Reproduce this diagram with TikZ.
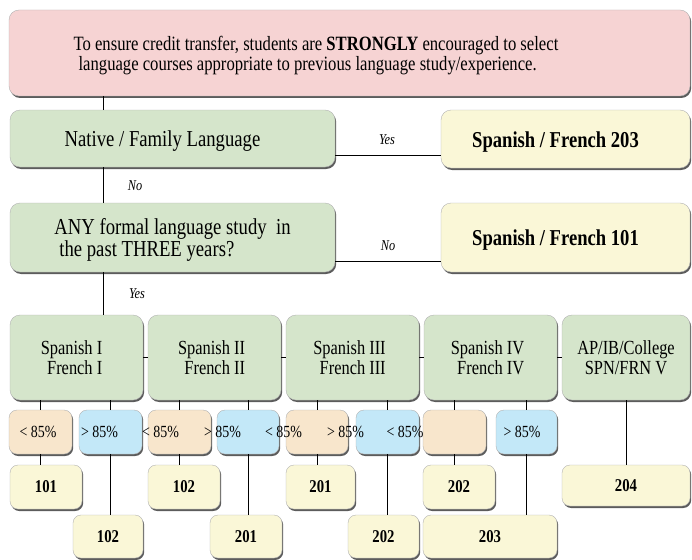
\documentclass[tikz,border=0pt]{standalone}
\usepackage{fontspec}
\setmainfont{Liberation Serif}[FakeStretch=0.82]
\usetikzlibrary{shadows}
\definecolor{pinkc}{HTML}{F6D3D3}
\definecolor{greenc}{HTML}{D5E5CB}
\definecolor{yellowc}{HTML}{FAF7D7}
\definecolor{orangec}{HTML}{F8E6CC}
\definecolor{bluec}{HTML}{C3E8F8}
\tikzset{
  box/.style={draw=black!30, line width=0.4pt, rounded corners=10pt, inner sep=0pt,
    drop shadow={shadow xshift=1.2pt, shadow yshift=-2pt, opacity=0.75, fill=black!85}},
  sbox/.style={box, rounded corners=8pt},
  pinkbox/.style={box, fill=pinkc},
  greenbox/.style={box, fill=greenc},
  yellowbox/.style={box, fill=yellowc},
  orangebox/.style={sbox, fill=orangec},
  bluebox/.style={sbox, fill=bluec},
  ybox/.style={sbox, fill=yellowc},
  toptxt/.style={font=\fontsize{20.3}{20}\selectfont, align=left, inner sep=0pt},
  bigtxt/.style={font=\fontsize{22.8}{20}\selectfont},
  boldtxt/.style={font=\bfseries\fontsize{22.7}{21}\selectfont},
  rowtxt/.style={font=\fontsize{20}{20}\selectfont},
  pcttxt/.style={font=\fontsize{17}{18}\selectfont, inner sep=0pt},
  numtxt/.style={font=\bfseries\fontsize{18}{18}\selectfont},
  yntxt/.style={font=\itshape\fontsize{15}{16}\selectfont, inner sep=0pt},
  conn/.style={draw=black, line width=0.9pt},
}
\newcommand\mybox[7]{\node[#1, minimum width={#5pt-#3pt}, minimum height={#6pt-#4pt}] (#2) at ({(#3+#5)/2},{(#4+#6)/2}) {#7};}
\newcommand\lowered[1]{\raisebox{-3pt}[\height][\depth]{#1}}
\begin{document}
\begin{tikzpicture}[x=1pt, y=-1pt]
\useasboundingbox (0,0) rectangle (692,559);
% top
\mybox{pinkbox}{top}{9}{10}{690}{96}{}
\node[toptxt] (toptext) at (316,56) {To ensure credit transfer, students are \textbf{STRONGLY} encouraged to select\\\hspace*{5pt}language courses appropriate to previous language study/experience.};
% decisions
\mybox{greenbox,bigtxt}{native}{10}{110}{335}{167}{\lowered{Native / Family Language}\hspace*{20pt}}
\mybox{yellowbox,boldtxt}{s203}{441}{110}{690}{168}{\lowered{Spanish / French 203}\hspace*{20pt}}
\mybox{greenbox,bigtxt}{any}{10}{203}{335}{272}{\lowered{\begin{tabular}{@{}l@{}}ANY formal language study\ \ in\\\hspace*{5pt}the past THREE years?\end{tabular}}}
\mybox{yellowbox,boldtxt}{s101}{441}{203}{690}{272}{\lowered{Spanish / French 101}\hspace*{20pt}}
% level boxes
\mybox{greenbox,rowtxt,align=right}{r1}{10}{315}{143}{400}{Spanish I\hspace*{10pt}\\French I\hspace*{10pt}}
\mybox{greenbox,rowtxt,align=right}{r2}{148}{315}{281}{400}{Spanish II\hspace*{6pt}\\French II\hspace*{6pt}}
\mybox{greenbox,rowtxt,align=right}{r3}{286}{315}{419}{400}{Spanish III\hspace*{6pt}\\French III\hspace*{6pt}}
\mybox{greenbox,rowtxt,align=right}{r4}{424}{315}{557}{400}{Spanish IV\hspace*{6pt}\\French IV\hspace*{6pt}}
\mybox{greenbox,rowtxt,align=center}{r5}{562}{315}{690}{400}{AP/IB/College\\SPN/FRN V}
% percent boxes
\mybox{orangebox}{p1a}{9}{410}{72}{454}{}
\mybox{bluebox}{p1b}{79}{410}{142}{454}{}
\mybox{orangebox}{p2a}{148}{410}{211}{454}{}
\mybox{bluebox}{p2b}{217}{410}{279}{454}{}
\mybox{orangebox}{p3a}{286}{410}{348}{454}{}
\mybox{bluebox}{p3b}{356}{410}{419}{454}{}
\mybox{orangebox}{p4a}{423}{410}{486}{454}{}
\mybox{bluebox}{p4b}{496}{410}{557}{454}{}
% percent labels
\node[pcttxt] (l1a) at (38,432) {< 85\%};
\node[pcttxt] (l1b) at (99.5,432) {> 85\%};
\node[pcttxt] (l2a) at (160.5,432) {< 85\%};
\node[pcttxt] (l2b) at (222.5,432) {> 85\%};
\node[pcttxt] (l3a) at (283.5,432) {< 85\%};
\node[pcttxt] (l3x) at (345.5,432) {> 85\%};
\node[pcttxt] (l3b) at (405,432) {< 85\%};
\node[pcttxt] (l4b) at (522,432) {> 85\%};
% result boxes
\mybox{ybox,numtxt}{b101}{10}{465}{82}{509}{101}
\mybox{ybox,numtxt}{b102a}{148}{465}{220}{509}{102}
\mybox{ybox,numtxt}{b201a}{286}{465}{355}{509}{201}
\mybox{ybox,numtxt}{b202a}{423}{465}{495}{509}{202}
\mybox{ybox,numtxt}{b204}{562}{465}{690}{506}{204}
\mybox{ybox,numtxt}{b102b}{73}{515}{143}{558}{102}
\mybox{ybox,numtxt}{b201b}{210}{515}{282}{558}{201}
\mybox{ybox,numtxt}{b202b}{348}{515}{419}{558}{202}
\mybox{ybox,numtxt}{b203}{423}{515}{557}{558}{203}
% trunk
\coordinate (tx) at (103,0);
\draw[conn] (top.south -| tx) -- (native.north -| tx);
\draw[conn] (native.south -| tx) -- (any.north -| tx);
\draw[conn] (any.south -| tx) -- (r1.north -| tx);
% yes / no branches
\coordinate (yy) at (0,155);
\coordinate (ny) at (0,261);
\draw[conn] (native.east |- yy) -- (s203.west |- yy);
\draw[conn] (any.east |- ny) -- (s101.west |- ny);
% row links
\draw[conn] (r1.east) -- (r2.west);
\draw[conn] (r2.east) -- (r3.west);
\draw[conn] (r3.east) -- (r4.west);
\draw[conn] (r4.east) -- (r5.west);
% down links
\draw[conn] (r1.south -| p1a.north) -- (p1a.north);
\draw[conn] (p1a.south) -- (p1a.south |- b101.north);
\draw[conn] (r1.south -| p1b.north) -- (p1b.north);
\draw[conn] (p1b.south) -- (p1b.south |- b102b.north);
\draw[conn] (r2.south -| p2a.north) -- (p2a.north);
\draw[conn] (p2a.south) -- (p2a.south |- b102a.north);
\draw[conn] (r2.south -| p2b.north) -- (p2b.north);
\draw[conn] (p2b.south) -- (p2b.south |- b201b.north);
\draw[conn] (r3.south -| p3a.north) -- (p3a.north);
\draw[conn] (p3a.south) -- (p3a.south |- b201a.north);
\draw[conn] (r3.south -| p3b.north) -- (p3b.north);
\draw[conn] (p3b.south) -- (p3b.south |- b202b.north);
\draw[conn] (r4.south -| p4a.north) -- (p4a.north);
\draw[conn] (p4a.south) -- (p4a.south |- b202a.north);
\draw[conn] (r4.south -| p4b.north) -- (p4b.north);
\draw[conn] (p4b.south) -- (p4b.south |- b203.north);
\draw[conn] (r5.south -| b204.north) -- (b204.north);
% labels
\node[yntxt] (yes1) at (387,140) {Yes};
\node[yntxt] (no1) at (135,186) {No};
\node[yntxt] (no2) at (388,246) {No};
\node[yntxt] (yes2) at (137,294) {Yes};
\end{tikzpicture}
\end{document}
